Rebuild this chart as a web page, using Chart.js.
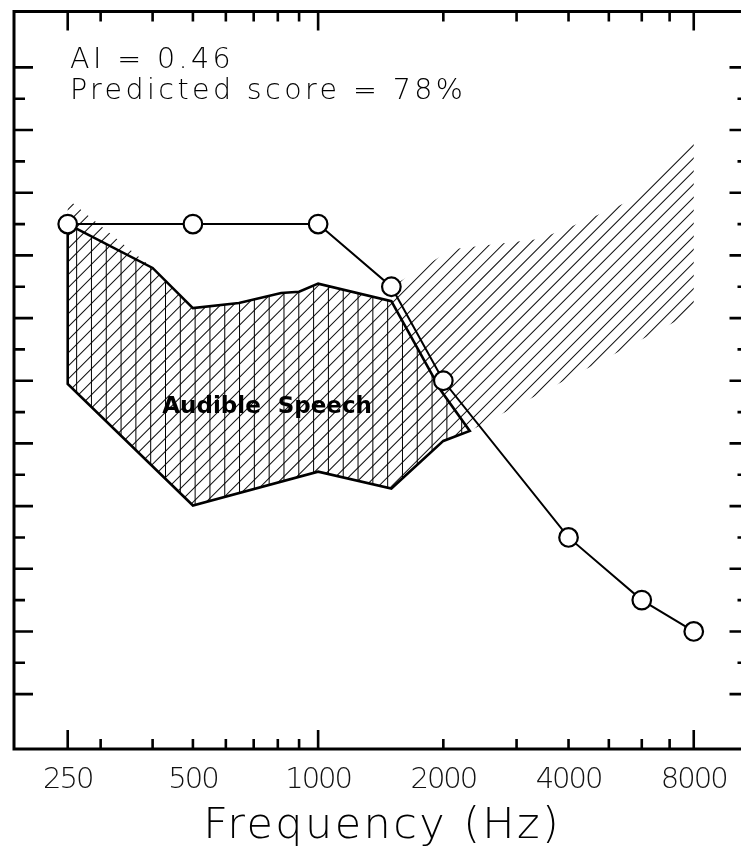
<!DOCTYPE html>
<html>
<head>
<meta charset="utf-8">
<script src="https://cdn.jsdelivr.net/npm/chart.js@4.4.1/dist/chart.umd.min.js"></script>
<style>
  html, body { margin: 0; padding: 0; background: #fff; overflow: hidden; }
  #wrap { width: 760px; height: 852px; }
</style>
</head>
<body>
<div id="wrap"><canvas id="audiogram" width="760" height="852"></canvas></div>
<script>
// Hearing thresholds (dB HL) at the audiometric test frequencies (Hz)
const thresholdFreqs  = [250, 500, 1000, 1500, 2000, 4000, 6000, 8000];
const thresholdLevels = [25, 25, 25, 35, 50, 75, 85, 90];

// Conversational speech spectrum, as a closed outline (Hz, dB HL)
const speechFreqs  = [250, 400, 500, 645, 815, 900, 1000, 1500, 1500, 2100, 3400, 4000, 5750, 8000, 8000, 2315, 2000, 1500, 1000, 500, 250];
const speechLevels = [21,  32,  38.4, 37.6, 36, 35.8, 34.5, 37.3, 35,  29,   27.4, 25.6, 21,   11.5, 39,   58,   59.6, 67.2, 64.5, 69.9, 50.5];

// Part of the speech spectrum that lies below the thresholds (audible)
const audibleFreqs  = [250, 400, 500, 645, 815, 900, 1000, 1500, 1975, 2315, 2000, 1500, 1000, 500, 250];
const audibleLevels = [25,  32,  38.4, 37.6, 36, 35.8, 34.5, 37.3, 51.6, 58,   59.6, 67.2, 64.5, 69.9, 50.5];

// Axis ticks
const xTickValues  = [250, 300, 400, 500, 600, 700, 800, 900, 1000, 2000, 3000, 4000, 5000, 6000, 7000, 8000];
const xTickLabels  = [250, 500, 1000, 2000, 4000, 8000];
const xLongTicks   = [250, 1000, 8000];
const yTickValues  = [0, 5, 10, 15, 20, 25, 30, 35, 40, 45, 50, 55, 60, 65, 70, 75, 80, 85, 90, 95, 100];
const yLongTicks   = [0, 10, 20, 30, 40, 50, 60, 70, 80, 90, 100];

// Text
const xTitle = 'Frequency (Hz)';
const aiText = 'AI = 0.46';
const scoreText = 'Predicted score = 78%';
const regionLabel = 'Audible Speech';
const regionLabelFreq = 754;
const regionLabelLevel = 55.1;

const thinFamily = '"DejaVu Sans", sans-serif';

const toPoints = (xs, ys) => xs.map((x, i) => ({ x: x, y: ys[i] }));

const W = 760, H = 852;

// Full-canvas hatch textures so the lines stay continuous between regions
function makeHatch(kind) {
  const c = document.createElement('canvas');
  c.width = W; c.height = H;
  const g = c.getContext('2d');
  g.beginPath();
  if (kind === 'diagonal') {
    g.strokeStyle = '#111';
    g.lineWidth = 1.05;
    for (let k = 3.5; k < W + H; k += 13.05) {
      g.moveTo(k, 0);
      g.lineTo(k - H, H);
    }
  } else {
    g.strokeStyle = '#000';
    g.lineWidth = 1;
    for (let x = 2.6; x < W; x += 14.81) {
      g.moveTo(x, 0);
      g.lineTo(x, H);
    }
  }
  g.stroke();
  return g.createPattern(c, 'no-repeat');
}

// Frame, inward tick marks, axis title and text annotations
const framePlugin = {
  id: 'frame',
  beforeDraw(chart) {
    // tighter digits for the frequency labels
    chart.ctx.letterSpacing = '-2px';
  },
  beforeDatasetsDraw(chart) {
    chart.ctx.letterSpacing = '0px';
  },
  afterDatasetsDraw(chart) {
    const { ctx, chartArea: a, scales } = chart;
    const xs = scales.x, ys = scales.y;
    ctx.save();
    ctx.strokeStyle = '#000';
    ctx.lineCap = 'butt';
    ctx.lineWidth = 2.6;
    ctx.beginPath();
    xs.ticks.forEach(t => {
      const px = xs.getPixelForValue(t.value);
      const len = xLongTicks.includes(t.value) ? 19 : 10;
      ctx.moveTo(px, a.bottom); ctx.lineTo(px, a.bottom - len);
      ctx.moveTo(px, a.top); ctx.lineTo(px, a.top + len);
    });
    ys.ticks.forEach(t => {
      const py = ys.getPixelForValue(t.value);
      const len = yLongTicks.includes(t.value) ? 19 : 11;
      ctx.moveTo(a.left, py); ctx.lineTo(a.left + len, py);
      ctx.moveTo(a.right, py); ctx.lineTo(a.right - len, py);
    });
    ctx.stroke();
    ctx.lineWidth = 3;
    ctx.strokeRect(a.left, a.top, a.right - a.left, a.bottom - a.top);

    ctx.fillStyle = '#000';
    ctx.textBaseline = 'alphabetic';

    ctx.textAlign = 'left';
    ctx.letterSpacing = '3.4px';
    ctx.font = '200 28.5px ' + thinFamily;
    ctx.fillText(aiText, a.left + 56, a.top + 56);
    ctx.fillText(scoreText, a.left + 56, a.top + 87);

    ctx.textAlign = 'center';
    ctx.letterSpacing = '2.4px';
    ctx.font = '200 43px ' + thinFamily;
    ctx.fillText(xTitle, (a.left + a.right) / 2 + 1, a.bottom + 89);

    ctx.letterSpacing = '0px';
    ctx.wordSpacing = '9px';
    ctx.font = 'bold 23px "DejaVu Sans", sans-serif';
    ctx.fillText(regionLabel, xs.getPixelForValue(regionLabelFreq), ys.getPixelForValue(regionLabelLevel));
    ctx.wordSpacing = '0px';
    ctx.restore();
  }
};

new Chart(document.getElementById('audiogram').getContext('2d'), {
  type: 'scatter',
  data: {
    datasets: [
      {
        label: 'Speech spectrum',
        data: toPoints(speechFreqs, speechLevels),
        showLine: true, fill: 'shape', tension: 0,
        backgroundColor: makeHatch('diagonal'),
        borderWidth: 0, borderColor: 'rgba(0,0,0,0)',
        pointRadius: 0, order: 3
      },
      {
        label: 'Audible speech',
        data: toPoints(audibleFreqs.concat(audibleFreqs[0]), audibleLevels.concat(audibleLevels[0])),
        showLine: true, fill: 'shape', tension: 0,
        backgroundColor: makeHatch('vertical'),
        borderColor: '#000', borderWidth: 2.6, borderJoinStyle: 'miter',
        pointRadius: 0, order: 2
      },
      {
        label: 'Threshold',
        data: toPoints(thresholdFreqs, thresholdLevels),
        showLine: true, fill: false, tension: 0,
        borderColor: '#000', borderWidth: 2,
        pointRadius: 9.3, pointBackgroundColor: '#fff',
        pointBorderColor: '#000', pointBorderWidth: 2.2,
        order: 1
      }
    ]
  },
  options: {
    responsive: false,
    animation: false,
    events: [],
    layout: { padding: { left: 14, top: 10, right: 8, bottom: 0 } },
    plugins: { legend: { display: false }, tooltip: { enabled: false } },
    scales: {
      x: {
        type: 'logarithmic',
        position: 'bottom',
        min: 185.7,
        max: 10833,
        grid: { display: false, drawTicks: false },
        border: { display: false },
        afterBuildTicks: s => { s.ticks = xTickValues.map(v => ({ value: v })); },
        afterFit: s => { s.height = 103; },
        ticks: {
          autoSkip: false, maxRotation: 0, minRotation: 0,
          padding: 14, color: '#111',
          font: { family: thinFamily, size: 29, weight: 200 },
          callback: v => xTickLabels.includes(v) ? String(v) : ''
        }
      },
      y: {
        type: 'linear',
        reverse: true,
        min: -8.92,
        max: 108.76,
        grid: { display: false, drawTicks: false },
        border: { display: false },
        ticks: { display: false },
        afterBuildTicks: s => { s.ticks = yTickValues.map(v => ({ value: v })); },
        afterFit: s => { s.width = 0; }
      }
    }
  },
  plugins: [framePlugin]
});
</script>
</body>
</html>
